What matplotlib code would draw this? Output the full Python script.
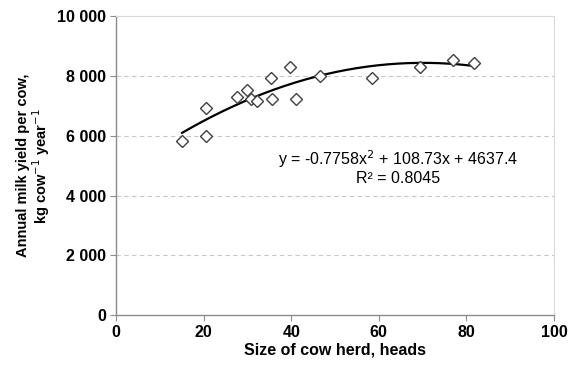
import matplotlib as mpl
mpl.use('agg')
import matplotlib.pyplot as plt
import numpy as np

# herd size (heads) and annual milk yield (kg/cow/year)
herd_size = [15.1, 20.5, 20.6, 27.7, 29.8, 30.8, 32.3, 35.5, 35.7, 39.7,
             41.0, 46.6, 58.4, 69.4, 76.9, 81.7]
milk_yield = [5840, 6925, 6006, 7313, 7527, 7226, 7179, 7929, 7246, 8298,
              7226, 8017, 7929, 8298, 8533, 8442]

# polynomial trend line as printed on the chart
coef = [-0.7758, 108.73, 4637.4]

x_ticks = [0, 20, 40, 60, 80, 100]
y_ticks = [0, 2000, 4000, 6000, 8000, 10000]
y_labels = ['0', '2 000', '4 000', '6 000', '8 000', '10 000']

plt.rcParams['font.family'] = ['Liberation Sans', 'DejaVu Sans']


def main():
    fig = plt.figure(figsize=(5.75, 3.65), dpi=100)
    axes = fig.add_axes([0.2017, 0.137, 0.7618, 0.8178])

    for yval in y_ticks[1:]:
        axes.axhline(yval, color='#c8c8c8', lw=0.8, ls=(0, (4, 3)), zorder=0)

    xfit = np.linspace(min(herd_size), max(herd_size), 200)
    axes.plot(xfit, np.polyval(coef, xfit), color='black', lw=1.6, zorder=2)
    axes.plot(herd_size, milk_yield, ls='none', marker='D', markersize=6,
              markerfacecolor='white', markeredgecolor='#404040',
              markeredgewidth=1.0, zorder=3)

    axes.set_xlim(0, 100)
    axes.set_ylim(0, 10000)
    axes.set_xticks(x_ticks)
    axes.set_yticks(y_ticks)
    axes.set_yticklabels(y_labels)
    axes.tick_params(labelsize=11.5, length=4, width=0.8, color='#8c8c8c',
                     pad=3)
    for lbl in axes.get_xticklabels() + axes.get_yticklabels():
        lbl.set_fontweight('bold')

    for side in ['left', 'bottom']:
        axes.spines[side].set_color('#8c8c8c')
        axes.spines[side].set_linewidth(1.0)
    for side in ['top', 'right']:
        axes.spines[side].set_color('#d9d9d9')
        axes.spines[side].set_linewidth(0.8)

    axes.set_xlabel('Size of cow herd, heads', fontsize=11.5,
                    fontweight='bold', labelpad=2)
    axes.set_ylabel('Annual milk yield per cow,\nkg cow$^{-1}$ year$^{-1}$',
                    fontsize=10.5, fontweight='bold', labelpad=4,
                    linespacing=1.0)

    axes.text(64.5, 4950, 'y = -0.7758x$^{2}$ + 108.73x + 4637.4\nR² = 0.8045',
              ha='center', va='center', fontsize=11.5, linespacing=1.1)

    plt.savefig('out.png', dpi=100)


if __name__ == '__main__':
    main()
